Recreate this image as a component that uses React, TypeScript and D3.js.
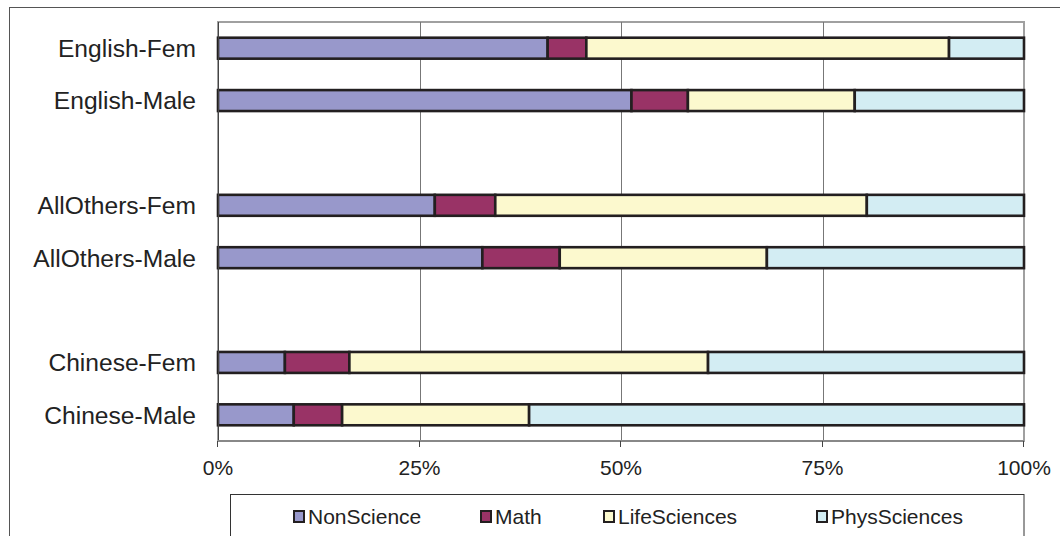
import React from "react";
import * as d3 from "d3";

const categories = ["English-Fem", "English-Male", "", "AllOthers-Fem", "AllOthers-Male", " ", "Chinese-Fem", "Chinese-Male"];
const seriesNames = ["NonScience", "Math", "LifeSciences", "PhysSciences"];
const nonScience = [40.9, 51.3, 0, 26.9, 32.8, 0, 8.3, 9.4];
const math = [4.8, 7.0, 0, 7.5, 9.6, 0, 8.0, 6.0];
const lifeSciences = [45.0, 20.7, 0, 46.1, 25.7, 0, 44.5, 23.2];
const physSciences = [9.3, 21.0, 0, 19.5, 31.9, 0, 39.2, 61.4];
const tickValues = [0, 0.25, 0.5, 0.75, 1];
const tickLabels = ["0%", "25%", "50%", "75%", "100%"];

const colors = ["#9898CB", "#993366", "#FCF9CE", "#D3EDF3"];
const FONT = "'Liberation Sans', Arial, Helvetica, sans-serif";

export default function App() {
  const W = 1060, H = 536;
  const left = 218, right = 1024, top = 22, bottom = 441;

  const rows = categories.map((c, i) => ({
    cat: c,
    NonScience: nonScience[i],
    Math: math[i],
    LifeSciences: lifeSciences[i],
    PhysSciences: physSciences[i],
  }));
  const rowsNorm = rows.map((r) => {
    const tot = r.NonScience + r.Math + r.LifeSciences + r.PhysSciences;
    if (tot === 0) return { ...r };
    return {
      cat: r.cat,
      NonScience: r.NonScience / tot,
      Math: r.Math / tot,
      LifeSciences: r.LifeSciences / tot,
      PhysSciences: r.PhysSciences / tot,
      total: tot,
    };
  });

  const x = d3.scaleLinear().domain([0, 1]).range([left, right]);
  const y = d3
    .scaleBand<string>()
    .domain(categories)
    .range([top, bottom])
    .paddingInner(0.6)
    .paddingOuter(0.3);

  const stacked = d3.stack<any>().keys(seriesNames)(rowsNorm as any);

  const legendX = [294, 481, 604, 817];

  return (
    <svg
      width={W}
      height={H}
      style={{ position: "absolute", left: 0, top: 0, background: "#fff" }}
      fontFamily={FONT}
    >
      <rect x={0} y={0} width={W} height={H} fill="#fff" />
      {/* outer chart border */}
      <rect x={9.5} y={7.5} width={W + 20} height={H + 20} fill="none" stroke="#555" strokeWidth={1} />

      {/* plot area border */}
      <rect x={left} y={top} width={right - left} height={bottom - top} fill="#fff" stroke="#a0a0a0" strokeWidth={2} />

      {/* gridlines */}
      {tickValues.slice(1, -1).map((t) => (
        <line key={t} x1={Math.round(x(t)) + 0.5} x2={Math.round(x(t)) + 0.5} y1={top} y2={bottom} stroke="#777" strokeWidth={1} />
      ))}

      {/* bars */}
      {stacked.map((s, si) =>
        s.map((d, i) => {
          const cat = categories[i];
          if (physSciences[i] + nonScience[i] + math[i] + lifeSciences[i] === 0) return null;
          const x0 = x(d[0]);
          const x1 = x(d[1]);
          return (
            <rect
              key={si + "-" + i}
              x={x0}
              y={y(cat)!}
              width={x1 - x0}
              height={y.bandwidth()}
              fill={colors[si]}
              stroke="#231f20"
              strokeWidth={2.6}
            />
          );
        })
      )}

      {/* left axis line */}
      <line x1={left + 0.5} x2={left + 0.5} y1={top} y2={bottom} stroke="#444" strokeWidth={1} />
      {/* bottom axis line */}
      <line x1={left} x2={right} y1={bottom} y2={bottom} stroke="#888" strokeWidth={2} />
      {tickValues.map((t, i) => (
        <g key={"t" + i}>
          <line x1={Math.round(x(t)) - 0.5} x2={Math.round(x(t)) - 0.5} y1={bottom} y2={bottom + 6} stroke="#444" strokeWidth={1} />
          <text x={x(t)} y={475} textAnchor="middle" fontSize={21} fill="#222">
            {tickLabels[i]}
          </text>
        </g>
      ))}

      {/* category labels */}
      {categories.map((c) =>
        c.trim() === "" ? null : (
          <text key={c} x={196} y={y(c)! + y.bandwidth() / 2} dy="0.36em" textAnchor="end" fontSize={24.6} fill="#222">
            {c}
          </text>
        )
      )}

      {/* legend */}
      <rect x={230.5} y={494.5} width={right - 230.5} height={H} fill="#fff" stroke="#333" strokeWidth={1} />
      {seriesNames.map((n, i) => (
        <g key={n}>
          <rect x={legendX[i]} y={511} width={10} height={11} fill={colors[i]} stroke="#231f20" strokeWidth={2} />
          <text x={legendX[i] + 14} y={524} fontSize={21} fill="#222">
            {n}
          </text>
        </g>
      ))}
    </svg>
  );
}
